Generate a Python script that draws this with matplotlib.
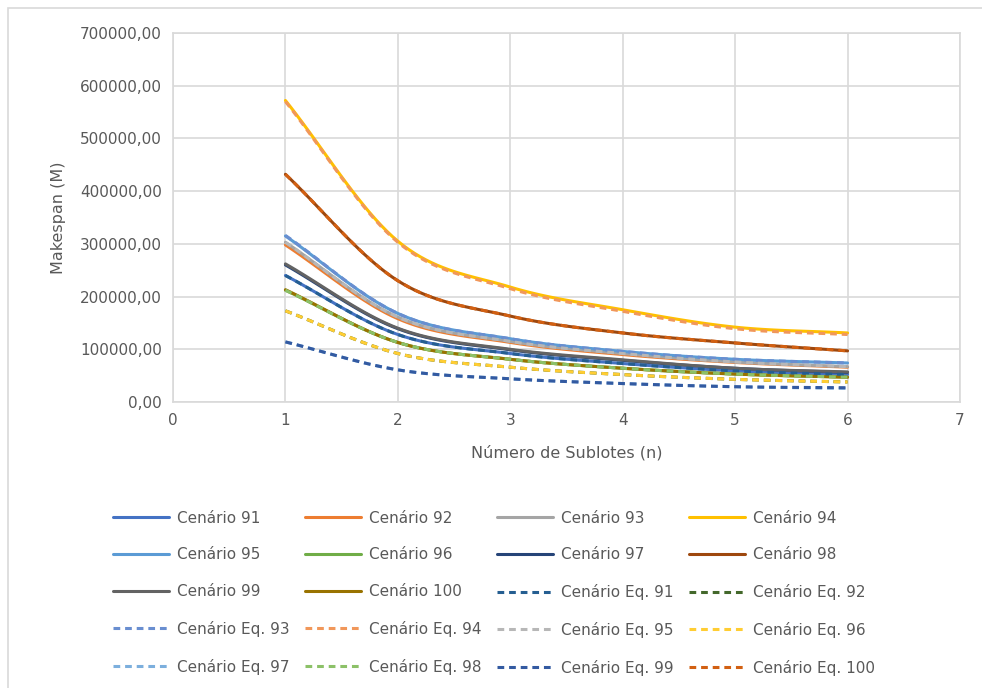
import numpy as np
import matplotlib
matplotlib.use("Agg")
import matplotlib.pyplot as plt
from matplotlib.patches import Rectangle

n = [1, 2, 3, 4, 5, 6]

# Cenário series (solid)
cen_labels = ["Cenário 91", "Cenário 92", "Cenário 93", "Cenário 94", "Cenário 95",
              "Cenário 96", "Cenário 97", "Cenário 98", "Cenário 99", "Cenário 100"]
cen_91 = [240000, 128000, 92000, 73000, 59000, 52000]
cen_92 = [298000, 158000, 113000, 90000, 75000, 66000]
cen_93 = [303000, 161000, 115000, 92000, 76000, 67000]
cen_94 = [572000, 305000, 218000, 175000, 142000, 131000]
cen_95 = [315000, 168000, 120000, 96000, 81000, 74000]
cen_96 = [212000, 113000, 81000, 64000, 53000, 47000]
cen_97 = [260000, 139000, 99000, 79000, 64000, 56000]
cen_98 = [432000, 230000, 163000, 131000, 112000, 97000]
cen_99 = [262000, 140000, 100000, 80000, 64000, 57000]
cen_100 = [213000, 113000, 81000, 64000, 53000, 47000]

# Cenário Eq. series (dashed)
eq_labels = ["Cenário Eq. 91", "Cenário Eq. 92", "Cenário Eq. 93", "Cenário Eq. 94",
             "Cenário Eq. 95", "Cenário Eq. 96", "Cenário Eq. 97", "Cenário Eq. 98",
             "Cenário Eq. 99", "Cenário Eq. 100"]
eq_91 = [240000, 128000, 92000, 73000, 59000, 52000]
eq_92 = [173000, 92000, 66000, 52000, 43000, 38000]
eq_93 = [316000, 168000, 120000, 96000, 81000, 74000]
eq_94 = [570000, 303000, 215000, 172000, 139000, 128000]
eq_95 = [303000, 161000, 115000, 92000, 76000, 67000]
eq_96 = [173000, 92000, 66000, 52000, 43000, 38000]
eq_97 = [114000, 61000, 44000, 35000, 29000, 26000]
eq_98 = [212000, 113000, 81000, 64000, 53000, 47000]
eq_99 = [114000, 61000, 44000, 35000, 29000, 27000]
eq_100 = [432000, 230000, 163000, 131000, 112000, 97000]

cen_data = [cen_91, cen_92, cen_93, cen_94, cen_95, cen_96, cen_97, cen_98, cen_99, cen_100]
eq_data = [eq_91, eq_92, eq_93, eq_94, eq_95, eq_96, eq_97, eq_98, eq_99, eq_100]

cen_colors = ["#4472C4", "#ED7D31", "#A5A5A5", "#FFC000", "#5B9BD5",
              "#70AD47", "#264478", "#9E480E", "#636363", "#997300"]
eq_colors = ["#255E91", "#43682B", "#698ED0", "#F1975A", "#B7B7B7",
             "#FFCD33", "#7CAFDD", "#8CC168", "#335AA1", "#D26012"]


def smooth(x, y, steps=20):
    # Catmull-Rom curve through the points, like Excel's smoothed line
    x = np.asarray(x, float)
    y = np.asarray(y, float)
    px = np.concatenate([[2 * x[0] - x[1]], x, [2 * x[-1] - x[-2]]])
    py = np.concatenate([[2 * y[0] - y[1]], y, [2 * y[-1] - y[-2]]])
    xs, ys = [], []
    t = np.linspace(0, 1, steps, endpoint=False)
    for i in range(1, len(px) - 2):
        for p, out in ((px, xs), (py, ys)):
            p0, p1, p2, p3 = p[i - 1], p[i], p[i + 1], p[i + 2]
            out.extend(0.5 * ((2 * p1) + (-p0 + p2) * t
                              + (2 * p0 - 5 * p1 + 4 * p2 - p3) * t ** 2
                              + (-p0 + 3 * p1 - 3 * p2 + p3) * t ** 3))
    xs.append(x[-1])
    ys.append(y[-1])
    return np.array(xs), np.array(ys)


plt.rcParams['font.family'] = ['DejaVu Sans']
fig = plt.figure(figsize=(9.82, 6.88), dpi=100)
ax = fig.add_axes([173 / 982, 1 - 402 / 688, (960 - 173) / 982, (402 - 33) / 688])

handles = {}
for lab, d, c in zip(cen_labels, cen_data, cen_colors):
    sx, sy = smooth(n, d)
    h, = ax.plot(sx, sy, color=c, lw=2.2, solid_capstyle='round')
    handles[lab] = h
for lab, d, c in zip(eq_labels, eq_data, eq_colors):
    sx, sy = smooth(n, d)
    h, = ax.plot(sx, sy, color=c, lw=2.2, linestyle=(0, (2.2, 1.6)))
    handles[lab] = h

ax.set_xlim(0, 7)
ax.set_ylim(0, 700000)
ax.set_xticks(range(0, 8))
ax.set_yticks(range(0, 700001, 100000))
ax.set_yticklabels(["%d,00" % v for v in range(0, 700001, 100000)])
ax.grid(True, color="#D9D9D9", lw=1.2)
ax.set_axisbelow(True)
for s in ax.spines.values():
    s.set_color("#D9D9D9")
    s.set_linewidth(1.2)
ax.tick_params(length=0, colors="#595959", labelsize=11, pad=8)
ax.set_xlabel("Número de Sublotes (n)", color="#595959", fontsize=11.5, labelpad=12)
ax.set_ylabel("Makespan (M)", color="#595959", fontsize=11.5, labelpad=10)

# legend in row order, 4 columns
order = cen_labels + eq_labels
ncol, nrow = 4, 5
col_major = [order[i * ncol + j] for j in range(ncol) for i in range(nrow) if i * ncol + j < len(order)]
leg = fig.legend([handles[k] for k in col_major], col_major, ncol=ncol,
                 loc='upper left', bbox_to_anchor=(99 / 982, 1 - 497 / 688),
                 frameon=False, fontsize=11, handlelength=3.7, handletextpad=0.5,
                 columnspacing=1.0, labelspacing=1.42, labelcolor="#595959")

fig.patches.append(Rectangle((8 / 982, -0.05), 2, 1 - 8 / 688 + 0.05,
                             transform=fig.transFigure, fill=False,
                             edgecolor="#D9D9D9", lw=1.2))

fig.savefig("out.png", dpi=100)
